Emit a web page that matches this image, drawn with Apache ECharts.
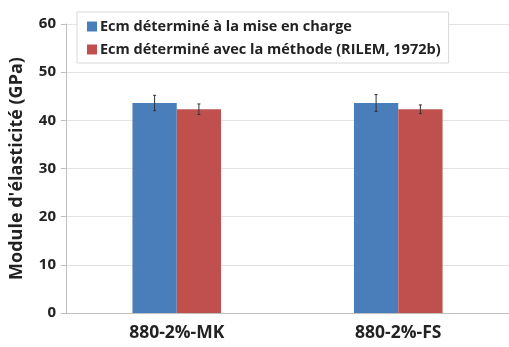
<!DOCTYPE html>
<html><head><meta charset="utf-8">
<script src="https://cdn.jsdelivr.net/npm/echarts@6/dist/echarts.min.js"></script>
<style>html,body{margin:0;padding:0;background:#fff}#c{width:509px;height:347px}</style>
</head><body><div id="c"></div>
<script>
const categories = ['880-2%-MK', '880-2%-FS'];
const seriesNames = ['Ecm déterminé à la mise en charge', 'Ecm déterminé avec la méthode (RILEM, 1972b)'];
const ecmCharge = [43.6, 43.6];
const ecmCharge_err = [1.6, 1.75];
const ecmRilem = [42.3, 42.3];
const ecmRilem_err = [1.1, 0.9];
const yTicks = [0, 10, 20, 30, 40, 50, 60];

const colors = ['#4a7ebb', '#c0504d'];
const chart = echarts.init(document.getElementById('c'));
const font = '"Open Sans", sans-serif';

function errSeries(vals, errs, idx) {
  return {
    type: 'custom', z: 10, silent: true,
    data: vals.map((v, i) => [i, v - errs[i], v + errs[i]]),
    renderItem: function (params, api) {
      const x = api.value(0);
      const lo = api.coord([x, api.value(1)]);
      const hi = api.coord([x, api.value(2)]);
      const bw = api.size([1, 0])[0];
      const off = (idx === 0 ? -0.1 : 0.1) * bw;
      const cx = lo[0] + off;
      const cap = 1.5;
      const st = { stroke: '#333', lineWidth: 1 };
      return { type: 'group', children: [
        { type: 'line', shape: { x1: cx, y1: lo[1], x2: cx, y2: hi[1] }, style: st },
        { type: 'line', shape: { x1: cx - cap, y1: lo[1], x2: cx + cap, y2: lo[1] }, style: st },
        { type: 'line', shape: { x1: cx - cap, y1: hi[1], x2: cx + cap, y2: hi[1] }, style: st }
      ]};
    }
  };
}

chart.setOption({
  animation: false,
  textStyle: { fontFamily: font },
  grid: { left: 65, right: -8, top: 24, bottom: 34, containLabel: false },
  legend: {
    data: seriesNames,
    orient: 'vertical',
    left: 77, top: 12,
    padding: [7, 8, 6, 10],
    itemGap: 8,
    itemWidth: 10, itemHeight: 10,
    backgroundColor: '#fff',
    borderColor: '#d9d9d9', borderWidth: 1,
    z: 20,
    textStyle: { fontFamily: font, fontWeight: 'bold', fontSize: 14.5, color: '#222', padding: [0, 0, 0, -2] },
    icon: 'rect'
  },
  xAxis: {
    type: 'category', data: categories,
    axisLine: { lineStyle: { color: '#bfbfbf' } },
    axisTick: { show: false },
    axisLabel: { fontFamily: font, fontWeight: 'bold', fontSize: 17.5, color: '#222', margin: 11 }
  },
  yAxis: {
    type: 'value', min: 0, max: 60, interval: 10,
    name: "Module d'élasticité (GPa)",
    nameLocation: 'middle', nameGap: 40, nameRotate: 90,
    nameTextStyle: { fontFamily: font, fontWeight: 'bold', fontSize: 18, color: '#222' },
    axisLine: { show: true, lineStyle: { color: '#bfbfbf' } },
    axisTick: { show: true, length: 5, lineStyle: { color: '#bfbfbf' } },
    axisLabel: { fontFamily: font, fontWeight: 'bold', fontSize: 15, color: '#222', margin: 10,
      formatter: v => yTicks.includes(v) ? String(v) : '' },
    splitLine: { lineStyle: { color: '#e3e3e3' } }
  },
  series: [
    { name: seriesNames[0], type: 'bar', data: ecmCharge, barWidth: '20%', barGap: '0%',
      itemStyle: { color: colors[0] } },
    { name: seriesNames[1], type: 'bar', data: ecmRilem, barWidth: '20%', barGap: '0%',
      itemStyle: { color: colors[1] } },
    errSeries(ecmCharge, ecmCharge_err, 0),
    errSeries(ecmRilem, ecmRilem_err, 1)
  ]
});
</script></body></html>
